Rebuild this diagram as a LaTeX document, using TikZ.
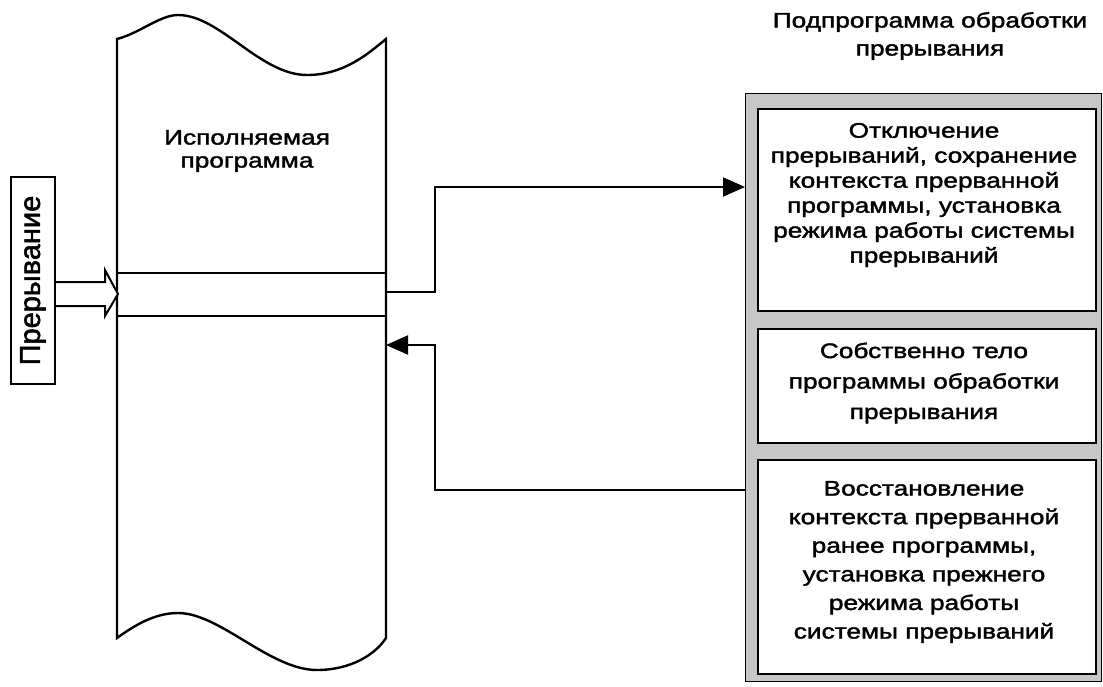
\documentclass[tikz,border=0pt]{standalone}
\usepackage{fontspec}
\setmainfont{Liberation Sans}[FakeStretch=1.25,FakeBold=1.8]
\newfontfamily\vertfont{Liberation Sans}[FakeBold=1.8]
\usetikzlibrary{arrows.meta}

\begin{document}
\begin{tikzpicture}[x=1pt,y=-1pt,line join=miter,
  outline/.style={draw=black,line width=2.4pt},
  flow/.style={draw=black,line width=2pt,-{Triangle[length=22pt,width=19pt]}},
  stagebox/.style={draw=black,line width=2.4pt,fill=white,anchor=north west,
    inner sep=0pt,minimum width=338pt},
  lbl/.style={align=center,inner sep=0pt},
  fs/.style={font=\fontsize{21}{#1}\selectfont},
]
\useasboundingbox (0,0) rectangle (1103,686);
\fill[white] (0,0) rectangle (1103,686);

% interrupt handler: shaded frame with three stages
\node[anchor=north west,draw=black,line width=1pt,fill=black!22,
  minimum width=356pt,minimum height=588pt,inner sep=0pt] (panel) at (745,93) {};
\node[stagebox,minimum height=202pt] (stage1) at (757,108) {};
\node[stagebox,minimum height=114pt] (stage2) at (757,328) {};
\node[stagebox,minimum height=214pt] (stage3) at (757,459) {};

\node[lbl,fs=28] (title) at (930,36) {Подпрограмма обработки\\прерывания};
\node[lbl,fs=25] (text1) at (924,195) {Отключение\\прерываний, сохранение\\контекста прерванной\\программы, установка\\режима работы системы\\прерываний};
\node[lbl,fs=30.5] (text2) at (924,383) {Собственно тело\\программы обработки\\прерывания};
\node[lbl,fs=28.6] (text3) at (924,562) {Восстановление\\контекста прерванной\\ранее программы,\\установка прежнего\\режима работы\\системы прерываний};

% running program: column with wavy torn ends
\draw[outline] (117,39) .. controls (140,33) and (160,15) .. (178,15)
  .. controls (220,15) and (260,75) .. (307,75)
  .. controls (345,75) and (370,52) .. (386,39)
  -- (386,638)
  .. controls (375,655) and (350,670) .. (317,670)
  .. controls (270,670) and (220,613) .. (178,613)
  .. controls (155,613) and (135,625) .. (117,638) -- cycle;
\draw[outline] (117,273) -- (386,273);
\draw[outline] (117,316) -- (386,316);
\node[lbl,fs=23] (prog) at (247,151) {Исполняемая\\программа};

% interrupt request
\node[draw=black,line width=2pt,minimum width=44pt,minimum height=207pt,inner sep=0pt]
  (irq) at (33,280.5) {\rotatebox{90}{\vertfont\fontsize{29}{32}\selectfont Прерывание}};
\draw[line width=2pt,fill=white] (irq.east |- 0,282) -- (105,282) -- (105,270)
  -- (118,294) -- (105,316) -- (105,306) -- (irq.east |- 0,306);

% transfer of control
\coordinate (run) at (386,292);
\coordinate (resume) at (386,345);
\coordinate (entry) at (panel.west |- 0,187);
\coordinate (exit) at (panel.west |- 0,490);
\draw[flow] (run) -- (435,292) -- (435,187) -- (entry);
\draw[flow] (exit) -- (435,490) -- (435,345) -- (resume);
\end{tikzpicture}
\end{document}
